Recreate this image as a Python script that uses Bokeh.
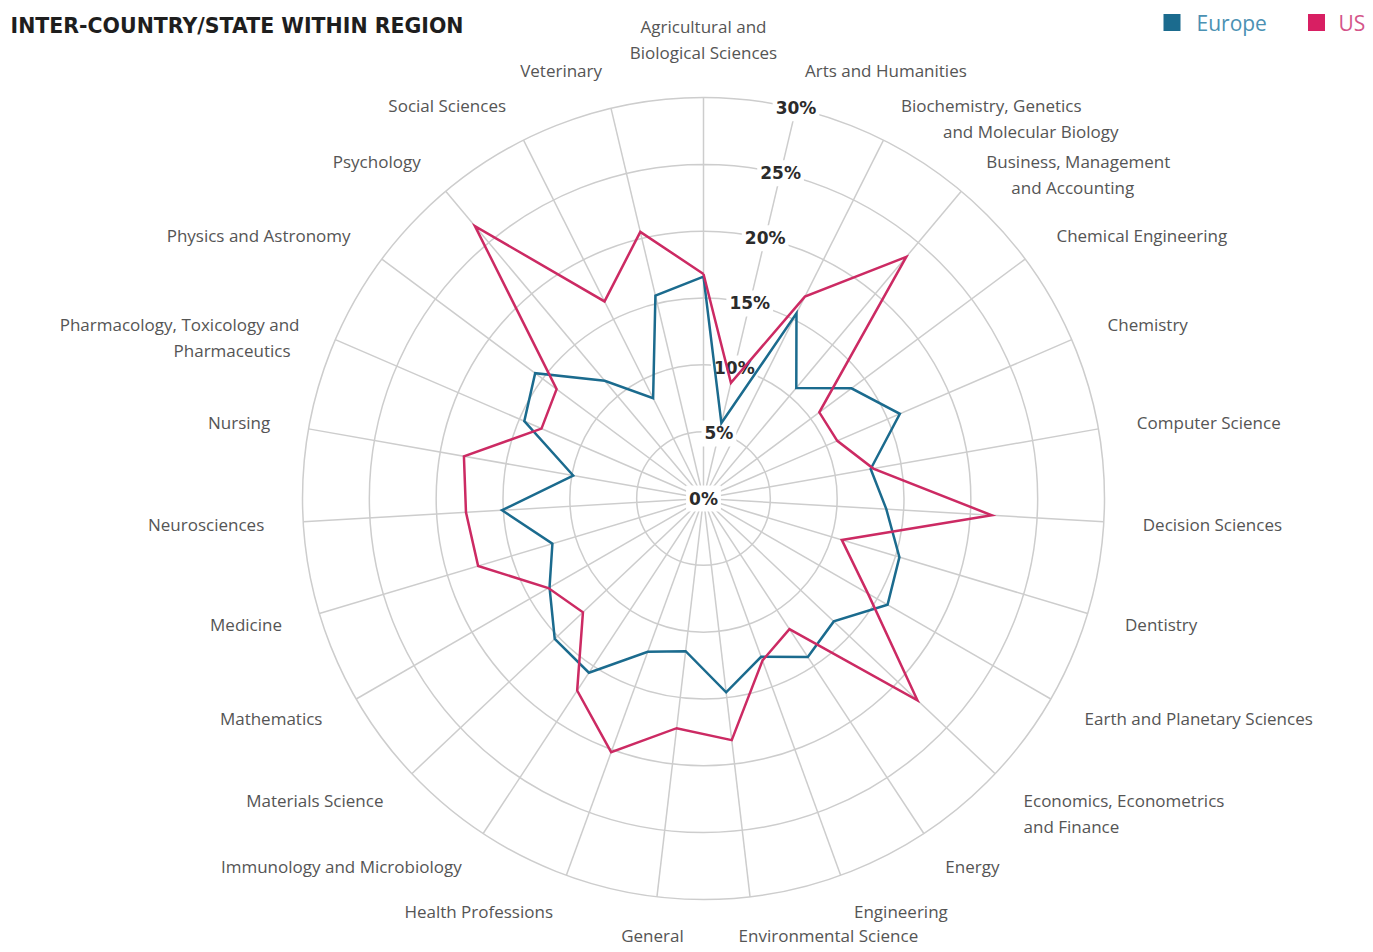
import numpy as np
from bokeh.plotting import figure
from bokeh.models import Range1d, ColumnDataSource
from bokeh.embed import file_html
from bokeh.resources import INLINE
from bokeh.core.properties import value, field

# ---------------- data ----------------
categories = [
    "Agricultural and\nBiological Sciences",
    "Arts and Humanities",
    "Biochemistry, Genetics\nand Molecular Biology",
    "Business, Management\nand Accounting",
    "Chemical Engineering",
    "Chemistry",
    "Computer Science",
    "Decision Sciences",
    "Dentistry",
    "Earth and Planetary Sciences",
    "Economics, Econometrics\nand Finance",
    "Energy",
    "Engineering",
    "Environmental Science",
    "General",
    "Health Professions",
    "Immunology and Microbiology",
    "Materials Science",
    "Mathematics",
    "Medicine",
    "Neurosciences",
    "Nursing",
    "Pharmacology, Toxicology and\nPharmaceutics",
    "Physics and Astronomy",
    "Psychology",
    "Social Sciences",
    "Veterinary",
]
europe = [16.6, 5.8, 15.5, 10.8, 13.8, 16.0, 12.7, 13.7, 15.3, 15.9, 13.4, 14.2, 12.6, 14.6,
          11.5, 12.2, 15.6, 15.3, 13.3, 11.8, 15.1, 9.9, 14.6, 15.7, 11.5, 8.4, 15.6]
us = [16.8, 8.9, 16.9, 23.6, 10.8, 10.9, 12.9, 21.6, 10.8, 14.2, 22.0, 11.7, 12.9, 18.2,
      17.3, 20.2, 17.2, 12.4, 13.4, 17.6, 17.8, 18.2, 13.2, 13.7, 26.6, 16.5, 20.5]
series_names = ["Europe", "US"]
ring_ticks = [0, 5, 10, 15, 20, 25, 30]
ring_tick_labels = ["0%", "5%", "10%", "15%", "20%", "25%", "30%"]
title_text = "INTER-COUNTRY/STATE WITHIN REGION"

# ---------------- layout / style ----------------
W, H = 1373, 952
CX, CY = 703, 498          # centre of the radar in canvas pixels (from top-left)
R_MAX = 401.0
PCT_MAX = 30.0
S = R_MAX / PCT_MAX
R_LAB = 440.0
LINE_H = 26
C_EU = "#1b6b8e"
C_US = "#cc2a63"
C_GRID = "#cdcdcd"
FONT = "Open Sans"
FONT_B = "DejaVu Sans"

N = len(categories)
theta = np.arange(N) * 2 * np.pi / N

p = figure(width=W, height=H,
           x_range=Range1d(-CX, W - CX), y_range=Range1d(-(H - CY), CY),
           output_backend="svg", toolbar_location=None, min_border=0,
           x_axis_location=None, y_axis_location=None)
p.grid.visible = False
p.outline_line_color = None
p.background_fill_color = "white"
p.border_fill_color = "white"

# rings
ring_r = [t * S for t in ring_ticks if t > 0]
p.circle(x=[0] * len(ring_r), y=[0] * len(ring_r), radius=ring_r,
         fill_color=None, line_color=C_GRID, line_width=1.5)
# spokes
p.segment(x0=np.zeros(N), y0=np.zeros(N),
          x1=R_MAX * np.sin(theta), y1=R_MAX * np.cos(theta),
          line_color=C_GRID, line_width=1.5)

# ring labels on second spoke
th1 = theta[1]
rl = np.array(ring_ticks) * S
rx = rl * np.sin(th1)
ry = rl * np.cos(th1)
p.text(x=rx, y=ry, text=ring_tick_labels, text_align="center", text_baseline="middle",
       text_font=value(FONT_B), text_font_style="bold", text_font_size="17px",
       text_color="#2b2b2b", background_fill_color="white", padding=3)

# series
for vals, col in ((europe, C_EU), (us, C_US)):
    r = np.array(vals + [vals[0]]) * S
    t = np.append(theta, theta[0])
    p.line(x=r * np.sin(t), y=r * np.cos(t), line_color=col, line_width=2.5,
           line_join="miter")

# category labels
align_override = {14: "center"}
dx_override = {13: -16}
second_line_dx = {2: 42, 3: 25, 22: -9}
lx, ly, lt, la = [], [], [], []
for i, cat in enumerate(categories):
    lines = cat.split("\n")
    sn, cs = np.sin(theta[i]), np.cos(theta[i])
    if abs(sn) < 1e-6:
        n = len(lines)
        for k, ln in enumerate(lines):
            lx.append(0.0)
            ly.append((R_LAB + 6) + (n - 1 - k) * LINE_H)
            lt.append(ln)
            la.append("center")
        continue
    ax, ay = R_LAB * sn, R_LAB * cs
    al = "left" if sn > 0 else "right"
    al = align_override.get(i, al)
    ax += dx_override.get(i, 0)
    for k, ln in enumerate(lines):
        lx.append(ax + (second_line_dx.get(i, 0) if k > 0 else 0))
        ly.append(ay - k * LINE_H)
        lt.append(ln)
        la.append(al)
src = ColumnDataSource(dict(x=lx, y=ly, text=lt, align=la))
p.text(x="x", y="y", text="text", source=src, text_align=field("align"),
       text_baseline="middle", text_font=value(FONT), text_font_size="17px",
       text_color="#555555")

# title
p.text(x=[10 - CX], y=[CY - 25], text=[title_text], text_align="left",
       text_baseline="middle", text_font=value(FONT_B), text_font_style="bold",
       text_font_size="20.5px", text_color="#1e1e1e")

# legend
leg_y = CY - 22
p.scatter(x=[1171.5 - CX, 1316 - CX], y=[leg_y, leg_y], marker="square", size=17,
          fill_color=[C_EU, "#d81f63"], line_color=None)
p.text(x=[1196 - CX, 1338 - CX], y=[leg_y, leg_y], text=series_names, text_align="left",
       text_baseline="middle", text_font=value(FONT), text_font_size="21px",
       text_color=["#4b91b3", "#d4558a"])

open("out.html", "w").write(file_html(p, INLINE))
